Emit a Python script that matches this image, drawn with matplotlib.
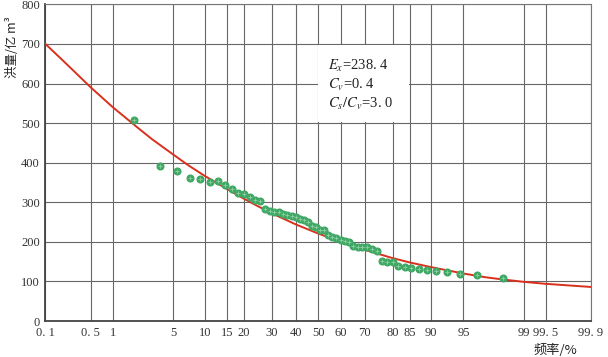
import numpy as np
import matplotlib.pyplot as plt
from matplotlib.patches import Rectangle
from statistics import NormalDist

# frequency axis (probability paper)
freq_ticks = [0.1, 0.5, 1, 5, 10, 15, 20, 30, 40, 50, 60, 70, 80, 85, 90, 95, 99, 99.5, 99.9]
freq_labels = ["0. 1", "0. 5", "1", "5", "10", "15", "20", "30", "40", "50", "60", "70",
               "80", "85", "90", "95", "99", "99. 5", "99. 9"]
flood_ticks = [0, 100, 200, 300, 400, 500, 600, 700, 800]

# observed floods (empirical frequency %)
obs_freq = [1.82, 3.64, 5.45, 7.27, 9.09, 10.91, 12.73, 14.55, 16.36, 18.18,
            20.0, 21.82, 23.64, 25.45, 27.27, 29.09, 30.91, 32.73, 34.55, 36.36,
            38.18, 40.0, 41.82, 43.64, 45.45, 47.27, 49.09, 50.91, 52.73, 54.55,
            56.36, 58.18, 60.0, 61.82, 63.64, 65.45, 67.27, 69.09, 70.91, 72.73,
            74.55, 76.36, 78.18, 80.0, 81.82, 83.64, 85.45, 87.27, 89.09, 90.91,
            92.73, 94.55, 96.36, 98.18]
obs_flood = [508, 392, 378, 361, 358, 352, 354, 344, 334, 323,
             322, 313, 306, 303, 282, 279, 275, 276, 270, 268,
             266, 264, 258, 254, 251, 240, 237, 231, 229, 217,
             213, 210, 205, 201, 199, 189, 187, 187, 186, 183,
             177, 152, 149, 148, 140, 137, 135, 132, 130, 127,
             124, 119, 115, 109]

# fitted frequency curve
curve_freq = [0.1, 0.2, 0.5, 1, 2, 3, 5, 7, 10, 15, 20, 25, 30, 40, 50,
              60, 70, 80, 85, 90, 95, 97, 98, 99, 99.5, 99.9]
curve_flood = [700, 655, 590, 540, 490, 459, 421, 394, 366, 334, 309, 289, 272, 244, 221,
               200, 180, 159, 148, 136, 120, 111, 106, 99, 94, 86]

nd = NormalDist()


def fwd(p):
    p = np.clip(np.asarray(p, dtype=float), 1e-9, 100 - 1e-9)
    return np.vectorize(lambda v: nd.inv_cdf(v / 100.0), otypes=[float])(p)


def inv(z):
    z = np.asarray(z, dtype=float)
    return np.vectorize(lambda v: nd.cdf(v) * 100.0, otypes=[float])(z)


plt.rcParams['font.family'] = ['Liberation Serif', 'Noto Sans CJK SC', 'DejaVu Sans']
plt.rcParams['mathtext.fontset'] = 'stix'

fig = plt.figure(figsize=(6.08, 3.57), dpi=100)
ax = fig.add_axes([0.0748, 0.1008, 0.8972, 0.8869])
ax.set_xscale('function', functions=(fwd, inv))

ax.plot(curve_freq, curve_flood, color='#d9301e', lw=1.4, zorder=3)
ax.plot(obs_freq, obs_flood, 'o', ms=4.8, color='#3fa864', mec='#3fa864', zorder=4)
ax.plot(obs_freq, obs_flood, '+', ms=3.0, mew=0.6, color='#8fd0a4', zorder=5)

ax.set_xlim(0.1, 99.9)
ax.set_ylim(0, 800)
ax.set_xticks(freq_ticks)
ax.set_xticklabels(freq_labels)
ax.set_yticks(flood_ticks)
ax.xaxis.set_minor_locator(plt.NullLocator())
ax.tick_params(length=0, labelsize=9, colors='#333333', pad=4)
ax.grid(True, color='#666666', lw=0.8)
for s in ['top', 'right']:
    ax.spines[s].set_color('#777777')
    ax.spines[s].set_linewidth(0.8)
for s in ['left', 'bottom']:
    ax.spines[s].set_color('#444444')
    ax.spines[s].set_linewidth(1.3)

# parameter box
ax.add_patch(Rectangle((0.4995, 0.6286), 0.167, 0.244, transform=ax.transAxes,
                       facecolor='white', edgecolor='none', zorder=2))
ax.text(0.518, 0.805, r"$E_x$=238. 4", transform=ax.transAxes, fontsize=10.5,
        va='center', color='#222222', zorder=6)
ax.text(0.518, 0.747, r"$C_v$=0. 4", transform=ax.transAxes, fontsize=10.5,
        va='center', color='#222222', zorder=6)
ax.text(0.518, 0.686, r"$C_s/C_v$=3. 0", transform=ax.transAxes, fontsize=10.5,
        va='center', color='#222222', zorder=6)

ax.set_ylabel("洪量/亿 m³", fontsize=9, color='#222222',
              family=['Noto Sans CJK SC', 'DejaVu Sans'])
ax.yaxis.set_label_coords(-0.049, 0.865)
ax.text(0.934, -0.092, "频率/%", transform=ax.transAxes, fontsize=9.5, ha='center',
        va='center', color='#222222', family=['Noto Sans CJK SC', 'DejaVu Sans'])

fig.savefig('out.png', dpi=100)
